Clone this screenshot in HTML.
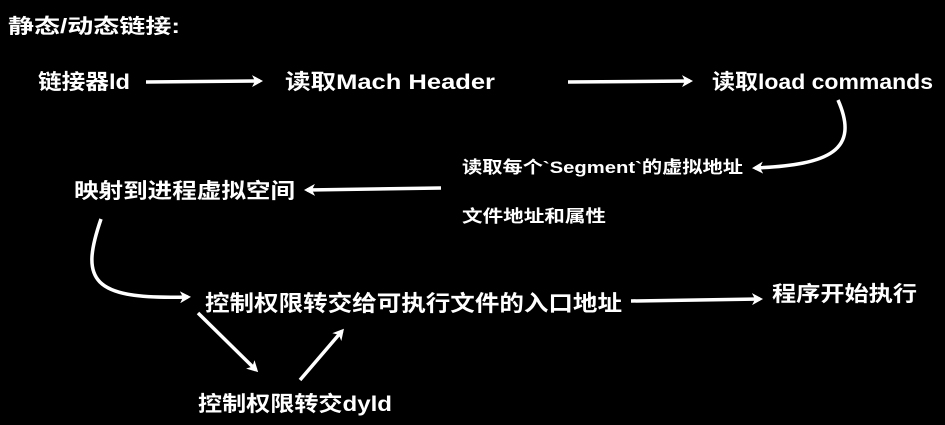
<!DOCTYPE html>
<html><head><meta charset="utf-8"><style>
html,body{margin:0;padding:0;background:#000;}
svg{display:block}
text{fill:#fff;font-family:"Liberation Sans","Noto Sans CJK SC",sans-serif;font-weight:bold;}
</style></head><body>
<svg width="945" height="425" viewBox="0 0 945 425" xmlns="http://www.w3.org/2000/svg">
<defs>
<marker id="a" markerWidth="12" markerHeight="12" refX="8" refY="6" orient="auto" markerUnits="userSpaceOnUse">
<path d="M0,0 L11,6 L0,12 L3,6 Z" fill="#fff"/>
</marker>
</defs>
<rect width="945" height="425" fill="#000"/>
<text x="8" y="33" font-size="20" textLength="172" lengthAdjust="spacingAndGlyphs">静态/动态链接:</text>
<text x="38" y="89" font-size="21" textLength="92" lengthAdjust="spacingAndGlyphs">链接器ld</text>
<text x="285" y="89" font-size="21" textLength="210" lengthAdjust="spacingAndGlyphs">读取Mach Header</text>
<text x="712" y="89" font-size="21" textLength="221" lengthAdjust="spacingAndGlyphs">读取load commands</text>
<text x="462" y="173" font-size="17" textLength="281" lengthAdjust="spacingAndGlyphs">读取每个`Segment`的虚拟地址</text>
<text x="462" y="222" font-size="17" textLength="144" lengthAdjust="spacingAndGlyphs">文件地址和属性</text>
<text x="74" y="198" font-size="21" textLength="221" lengthAdjust="spacingAndGlyphs">映射到进程虚拟空间</text>
<text x="205" y="311" font-size="22" textLength="417" lengthAdjust="spacingAndGlyphs">控制权限转交给可执行文件的入口地址</text>
<text x="772" y="301" font-size="21" textLength="145" lengthAdjust="spacingAndGlyphs">程序开始执行</text>
<text x="198" y="411" font-size="21" textLength="194" lengthAdjust="spacingAndGlyphs">控制权限转交dyld</text>
<g stroke="#fff" stroke-width="3.5" fill="none" marker-end="url(#a)">
<line x1="146" y1="82" x2="260" y2="81"/>
<line x1="568" y1="82" x2="690" y2="81"/>
<path d="M838,100 C860,150 830,165 755,168"/>
<line x1="441" y1="188" x2="307" y2="190"/>
<path d="M101,219 C80,280 90,300 188,297"/>
<line x1="631" y1="301" x2="760" y2="299"/>
<line x1="198" y1="313" x2="256" y2="370"/>
<line x1="300" y1="380" x2="342" y2="331"/>
</g>
</svg>
</body></html>
